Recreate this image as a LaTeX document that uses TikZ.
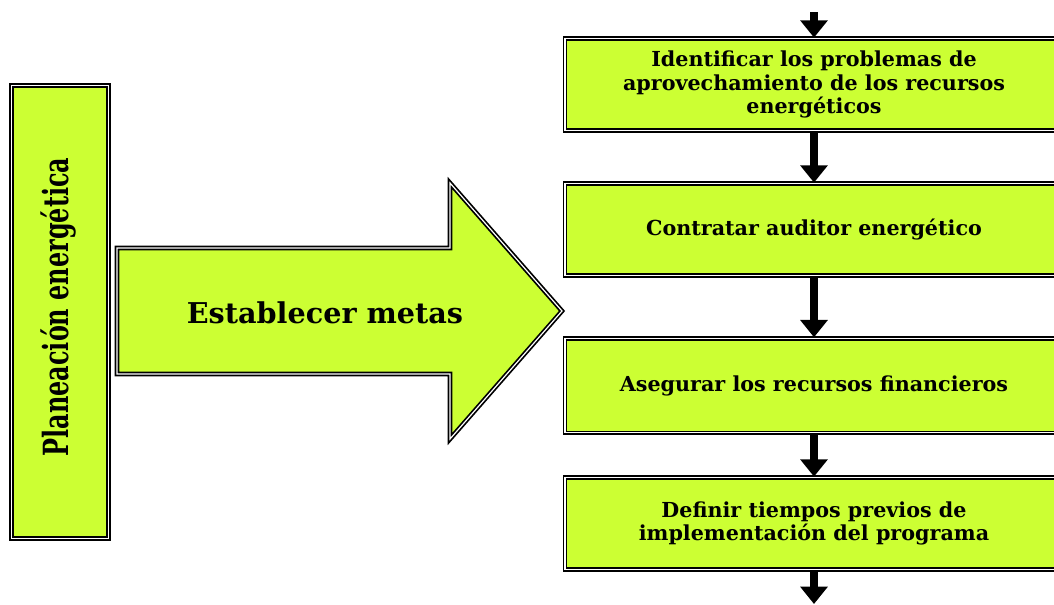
\documentclass[tikz,border=0pt]{standalone}
\usepackage{fontspec}
\setmainfont{DejaVu Serif}
\usepackage{tikz}
\usetikzlibrary{arrows.meta}

\definecolor{verdelima}{RGB}{204,255,51}

\tikzset{
  marco/.style={draw=black, fill=verdelima, line width=1.3pt, double=white, double distance=0.9pt},
  caja/.style={marco, minimum width=373.5pt, minimum height=69pt, align=center, inner sep=0.75pt,
    font=\bfseries\fontsize{15.5}{17.5}\selectfont},
  flecha/.style={line width=6pt, -{Triangle[width=20pt,length=13pt]}}
}

\begin{document}
\begin{tikzpicture}[x=0.75pt,y=0.75pt,yscale=-1,xscale=1]
\useasboundingbox (0,0) rectangle (1054,604);
\clip (0,0) rectangle (1054,604);

%Shape: Rectangle
\node (plan) [marco, minimum width=73pt, minimum height=340pt, inner sep=0pt] at (60,312) {};
% Text Node
\node (plantxt) [rotate=90, inner sep=0.75pt, font=\bfseries\fontsize{26}{30}\selectfont] at (58,307) {\scalebox{0.69}[1]{Planeación energética}};

%Shape: Right Arrow
\draw [marco, line join=miter] (117,248) -- (450,248) -- (450,183) -- (562,311) -- (450,439) -- (450,374) -- (117,374) -- cycle ;
% Text Node
\node (metas) [inner sep=0.75pt, font=\bfseries\fontsize{21.5}{25}\selectfont] at (325,313) {Establecer metas};

%Shape: Rectangle
\node (b1) [caja] at (814,84.5) {Identificar los problemas de\\aprovechamiento de los recursos\\energéticos};
%Shape: Rectangle
\node (b2) [caja] at (814,229.5) {Contratar auditor energético};
%Shape: Rectangle
\node (b3) [caja, minimum height=71pt] at (814,385.5) {Asegurar los recursos financieros};
%Shape: Rectangle
\node (b4) [caja] at (814,523.5) {Definir tiempos previos de\\implementación del programa};

\coordinate (arriba) at (814,12);
\coordinate (abajo) at (814,604);

%Block Arrows
\draw [flecha] (arriba) -- (b1.north);
\draw [flecha] (b1.south) -- (b2.north);
\draw [flecha] (b2.south) -- (b3.north);
\draw [flecha] (b3.south) -- (b4.north);
\draw [flecha] (b4.south) -- (abajo);

\end{tikzpicture}
\end{document}
